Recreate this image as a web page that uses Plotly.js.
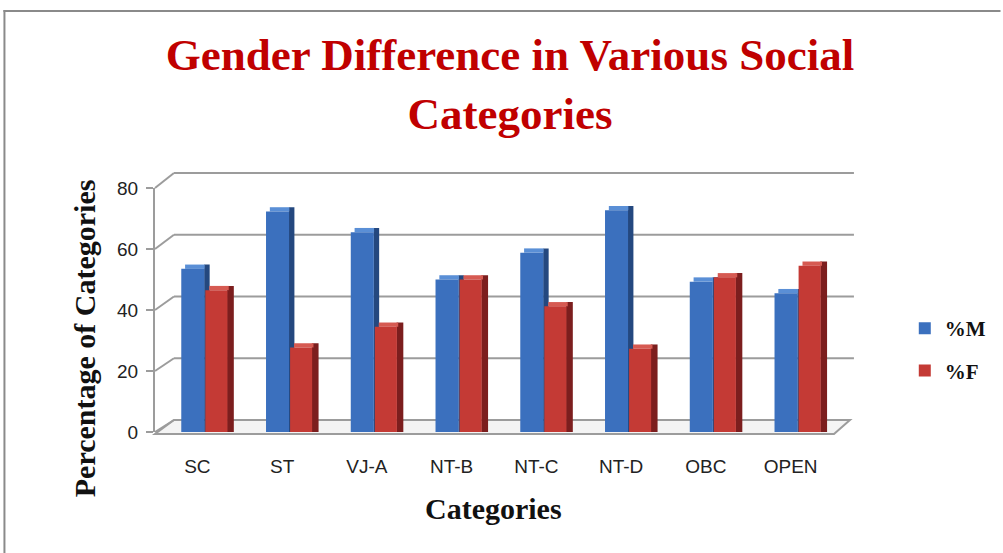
<!DOCTYPE html>
<html>
<head>
<meta charset="utf-8">
<script src="https://cdn.plot.ly/plotly-3.0.1.min.js"></script>
<style>html,body{margin:0;padding:0;background:#fff;}#chart{width:1003px;height:553px;}</style>
</head>
<body>
<div id="chart"></div>
<script>
// ---- data ----
const categories = ["SC", "ST", "VJ-A", "NT-B", "NT-C", "NT-D", "OBC", "OPEN"];
const maleValues = [53.5, 72.3, 65.5, 50, 58.8, 72.7, 49.3, 45.5];
const femaleValues = [46.5, 27.7, 34.5, 50, 41.2, 27.3, 50.7, 54.5];
const yTicks = [0, 20, 40, 60, 80];
const seriesNames = ["%M", "%F"];

// ---- geometry helpers (plot area: x 155..835, y 188..432) ----
const L = 155, W = 680, B = 432, H = 244;
const px = x => (x - L) / W;
const py = y => (B - y) / H;
const frontY = v => B - v * (H / 80);
const backY = v => 420 - v * (247 / 80);

const capH = 1.4; // depth cap height in data units
const plus = arr => arr.map(v => v + capH);

const blue = "#3B70BE", blueSide = "#24487F", blueTop = "#5A8FD6";
const red = "#C43A35", redSide = "#7C1E1E", redTop = "#D65A52";

const traces = [
  {type: "bar", x: categories, y: plus(maleValues), width: 0.065, offset: 0.08,
   marker: {color: blueSide}, showlegend: false, hoverinfo: "skip"},
  {type: "bar", x: categories, y: maleValues.map(() => capH), base: maleValues, width: 0.23, offset: -0.145,
   marker: {color: blueTop}, showlegend: false, hoverinfo: "skip"},
  {type: "bar", x: categories, y: maleValues, width: 0.272, offset: -0.19, name: seriesNames[0],
   marker: {color: blue}, legendgroup: "m"},
  {type: "bar", x: categories, y: plus(femaleValues), width: 0.08, offset: 0.35,
   marker: {color: redSide}, showlegend: false, hoverinfo: "skip"},
  {type: "bar", x: categories, y: femaleValues.map(() => capH), base: femaleValues, width: 0.23, offset: 0.14,
   marker: {color: redTop}, showlegend: false, hoverinfo: "skip"},
  {type: "bar", x: categories, y: femaleValues, width: 0.26, offset: 0.094, name: seriesNames[1],
   marker: {color: red}, legendgroup: "f"}
];

const grid = "#9C9C9C";
const shapes = [];
// floor
shapes.push({type: "path", xref: "paper", yref: "paper", layer: "below",
  path: `M ${px(155)} ${py(434)} L ${px(836)} ${py(434)} L ${px(852)} ${py(420)} L ${px(174)} ${py(420)} Z`,
  fillcolor: "#F4F4F4", line: {color: grid, width: 2}});
// back-wall gridlines + left-wall diagonals
yTicks.forEach(v => {
  if (v > 0) {
    shapes.push({type: "line", xref: "paper", yref: "paper", layer: "below",
      x0: px(174), x1: px(856), y0: py(backY(v)), y1: py(backY(v)), line: {color: grid, width: 2}});
  }
  shapes.push({type: "line", xref: "paper", yref: "paper", layer: "below",
    x0: px(155), x1: px(174), y0: py(frontY(v)), y1: py(backY(v)), line: {color: grid, width: 2}});
});
// outer chart border
shapes.push({type: "line", xref: "paper", yref: "paper", x0: px(3), x1: px(1003), y0: py(11), y1: py(11), line: {color: "#8A8A8A", width: 2}});
shapes.push({type: "line", xref: "paper", yref: "paper", x0: px(4), x1: px(4), y0: py(10), y1: py(553), line: {color: "#8A8A8A", width: 2}});

const serif = "Liberation Serif, Times New Roman, serif";
const sans = "Liberation Sans, Arial, sans-serif";
const layout = {
  width: 1003, height: 553,
  margin: {l: 155, r: 168, t: 188, b: 121, pad: 0},
  paper_bgcolor: "#fff", plot_bgcolor: "rgba(0,0,0,0)",
  barmode: "overlay",
  title: {text: "Gender Difference in Various Social<br>Categories",
    font: {family: serif, size: 45, color: "#C00000", weight: "bold"},
    x: 510 / 1003, xanchor: "center", xref: "container",
    y: 1 - 70 / 553, yanchor: "top", yref: "container"},
  xaxis: {type: "category", range: [-0.5, 7.5], showgrid: false, zeroline: false, showline: false,
    ticks: "", ticklabelstandoff: 21, tickfont: {family: sans, size: 19, color: "#222"}},
  yaxis: {range: [0, 80], tickvals: yTicks, showgrid: false, zeroline: false,
    showline: true, linecolor: grid, linewidth: 2, ticks: "outside", ticklen: 7, tickcolor: grid, tickwidth: 2,
    ticklabelstandoff: 4,
    tickfont: {family: sans, size: 19, color: "#222"}},
  legend: {x: px(907), y: py(308), xanchor: "left", yanchor: "top", traceorder: "grouped", tracegroupgap: 12,
    font: {family: serif, size: 21, color: "#111", weight: "bold"}, itemwidth: 30, bgcolor: "rgba(0,0,0,0)"},
  shapes: shapes,
  annotations: [
    {text: "Percentage of Categories", xref: "paper", yref: "paper", x: px(84), y: py(338),
     xanchor: "center", yanchor: "middle", textangle: -90, showarrow: false,
     font: {family: serif, size: 30, color: "#111", weight: "bold"}},
    {text: "Categories", xref: "paper", yref: "paper", x: px(494), y: py(508),
     xanchor: "center", yanchor: "middle", showarrow: false,
     font: {family: serif, size: 30, color: "#111", weight: "bold"}}
  ],
  showlegend: true
};

Plotly.newPlot("chart", traces, layout, {displayModeBar: false, staticPlot: true});
</script>
</body>
</html>
